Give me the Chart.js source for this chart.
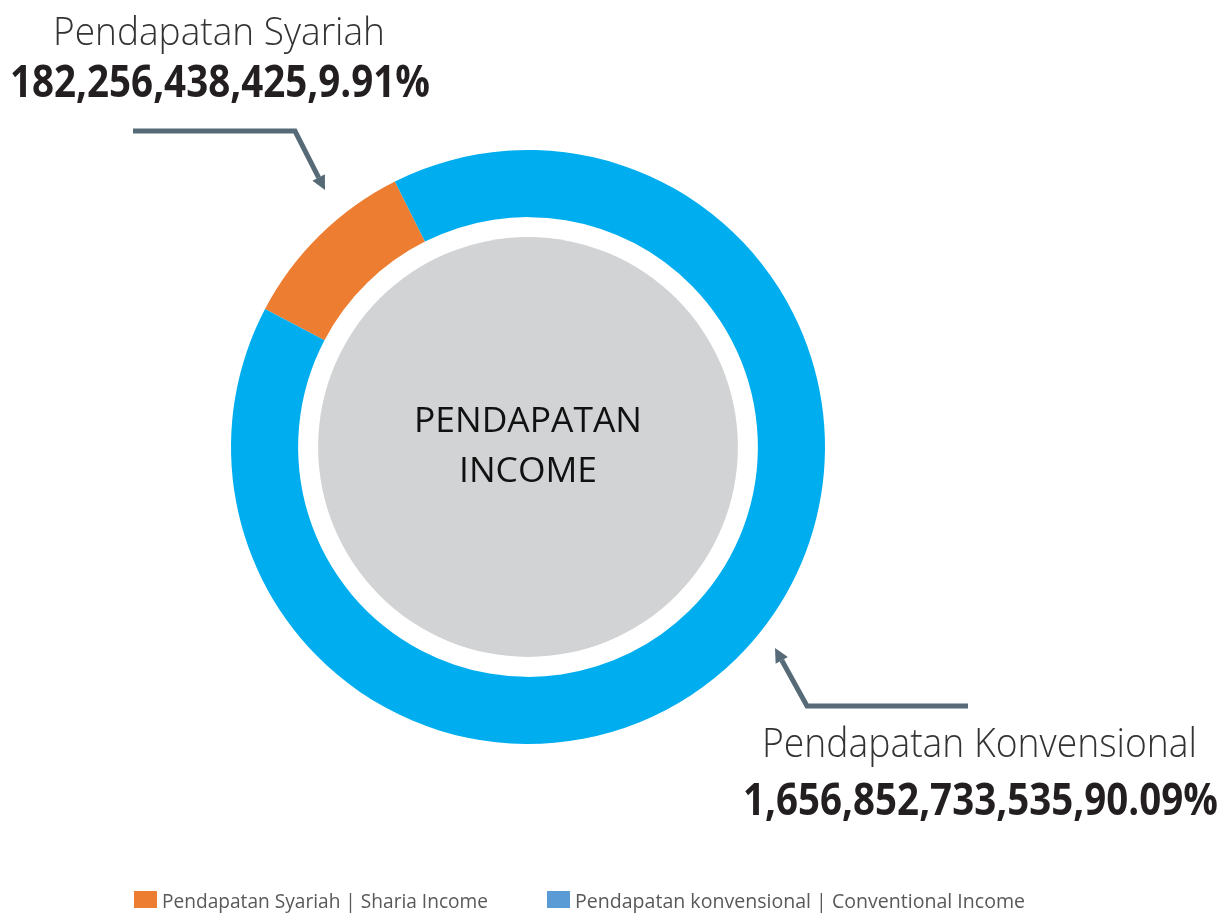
<!DOCTYPE html>
<html>
<head>
<meta charset="utf-8">
<script src="https://cdn.jsdelivr.net/npm/chart.js@4"></script>
<style>
  html, body { margin: 0; padding: 0; background: #fff; }
  #wrap { width: 1231px; height: 913px; position: relative; }
</style>
</head>
<body>
<div id="wrap"><canvas id="incomeChart" width="1231" height="913"></canvas></div>
<script>
// Données du graphique
const categories = ['Pendapatan Syariah', 'Pendapatan Konvensional'];
const legendLabels = ['Pendapatan Syariah | Sharia Income', 'Pendapatan konvensional | Conventional Income'];
const values = [182256438425, 1656852733535];
const percents = ['9.91%', '90.09%'];
const centerLines = ['PENDAPATAN', 'INCOME'];
const sliceColors = ['#ED7D31', '#00AEEF'];
const legendColors = ['#ED7D31', '#5B9BD5'];

const FONT = '"Open Sans", "Noto Sans", sans-serif';
const ARROW = '#566b77';

// texte ajusté en largeur
function fitText(ctx, text, x, y, w, size, weight, color, align) {
  ctx.save();
  ctx.font = weight + ' ' + size + 'px ' + FONT;
  ctx.fillStyle = color;
  ctx.textBaseline = 'alphabetic';
  ctx.textAlign = 'left';
  const m = ctx.measureText(text).width;
  const sx = w / m;
  let left = x;
  if (align === 'center') left = x - w / 2;
  ctx.translate(left, y);
  ctx.scale(sx, 1);
  ctx.fillText(text, 0, 0);
  ctx.restore();
}

function arrow(ctx, pts) {
  ctx.save();
  ctx.strokeStyle = ARROW;
  ctx.fillStyle = ARROW;
  ctx.lineWidth = 5;
  ctx.lineJoin = 'miter';
  const n = pts.length;
  const tip = pts[n - 1], prev = pts[n - 2];
  const ang = Math.atan2(tip[1] - prev[1], tip[0] - prev[0]);
  const headLen = 14, headW = 7;
  const bx = tip[0] - Math.cos(ang) * headLen, by = tip[1] - Math.sin(ang) * headLen;
  ctx.beginPath();
  ctx.moveTo(pts[0][0], pts[0][1]);
  for (let i = 1; i < n - 1; i++) ctx.lineTo(pts[i][0], pts[i][1]);
  ctx.lineTo(bx, by);
  ctx.stroke();
  ctx.beginPath();
  ctx.moveTo(tip[0], tip[1]);
  ctx.lineTo(bx + Math.sin(ang) * headW, by - Math.cos(ang) * headW);
  ctx.lineTo(bx - Math.sin(ang) * headW, by + Math.cos(ang) * headW);
  ctx.closePath();
  ctx.fill();
  ctx.restore();
}

const decorPlugin = {
  id: 'decor',
  beforeDatasetsDraw(chart) {
    const arc = chart.getDatasetMeta(0).data[0];
    const ctx = chart.ctx;
    ctx.save();
    ctx.fillStyle = '#D1D3D4';
    ctx.beginPath();
    ctx.arc(arc.x, arc.y, arc.innerRadius * 0.913, 0, Math.PI * 2);
    ctx.fill();
    ctx.restore();
  },
  afterDraw(chart) {
    const ctx = chart.ctx;
    const arc = chart.getDatasetMeta(0).data[0];
    const cx = arc.x, cy = arc.y;

    // texte central
    fitText(ctx, centerLines[0], cx, cy - 15, 228, 35, 'normal', '#111', 'center');
    fitText(ctx, centerLines[1], cx, cy + 35, 138, 35, 'normal', '#111', 'center');

    // étiquettes
    const valText = values.map((v, i) => v.toLocaleString('en-US') + ',' + percents[i]);
    fitText(ctx, categories[0], 53, 45, 332, 39, '300', '#333', 'left');
    fitText(ctx, valText[0], 10, 97, 420, 45, 'bold', '#231f20', 'left');
    fitText(ctx, categories[1], 762, 757, 435, 40, '300', '#333', 'left');
    fitText(ctx, valText[1], 743, 815, 475, 45, 'bold', '#231f20', 'left');

    // flèches
    arrow(ctx, [[cx - 395, cy - 316], [cx - 233, cy - 316], [cx - 203, cy - 257]]);
    arrow(ctx, [[cx + 440, cy + 259], [cx + 279, cy + 259], [cx + 247, cy + 201]]);

    // légende
    const legendX = [134, 547];
    const legendW = [326, 450];
    legendLabels.forEach((lbl, i) => {
      ctx.fillStyle = legendColors[i];
      ctx.fillRect(legendX[i], 891, 23, 17);
      fitText(ctx, lbl, legendX[i] + 28, 908, legendW[i], 20, 'normal', '#595959', 'left');
    });
  }
};

const ctx = document.getElementById('incomeChart').getContext('2d');
const incomeChart = new Chart(ctx, {
  type: 'doughnut',
  data: {
    labels: categories,
    datasets: [{
      data: values,
      backgroundColor: sliceColors,
      borderWidth: 0
    }]
  },
  options: {
    responsive: false,
    animation: false,
    cutout: '77.4%',
    rotation: -62.3,
    layout: {
      padding: { top: 150, bottom: 169, left: 231, right: 406 }
    },
    plugins: {
      legend: { display: false },
      tooltip: { enabled: false }
    }
  },
  plugins: [decorPlugin]
});
</script>
</body>
</html>
